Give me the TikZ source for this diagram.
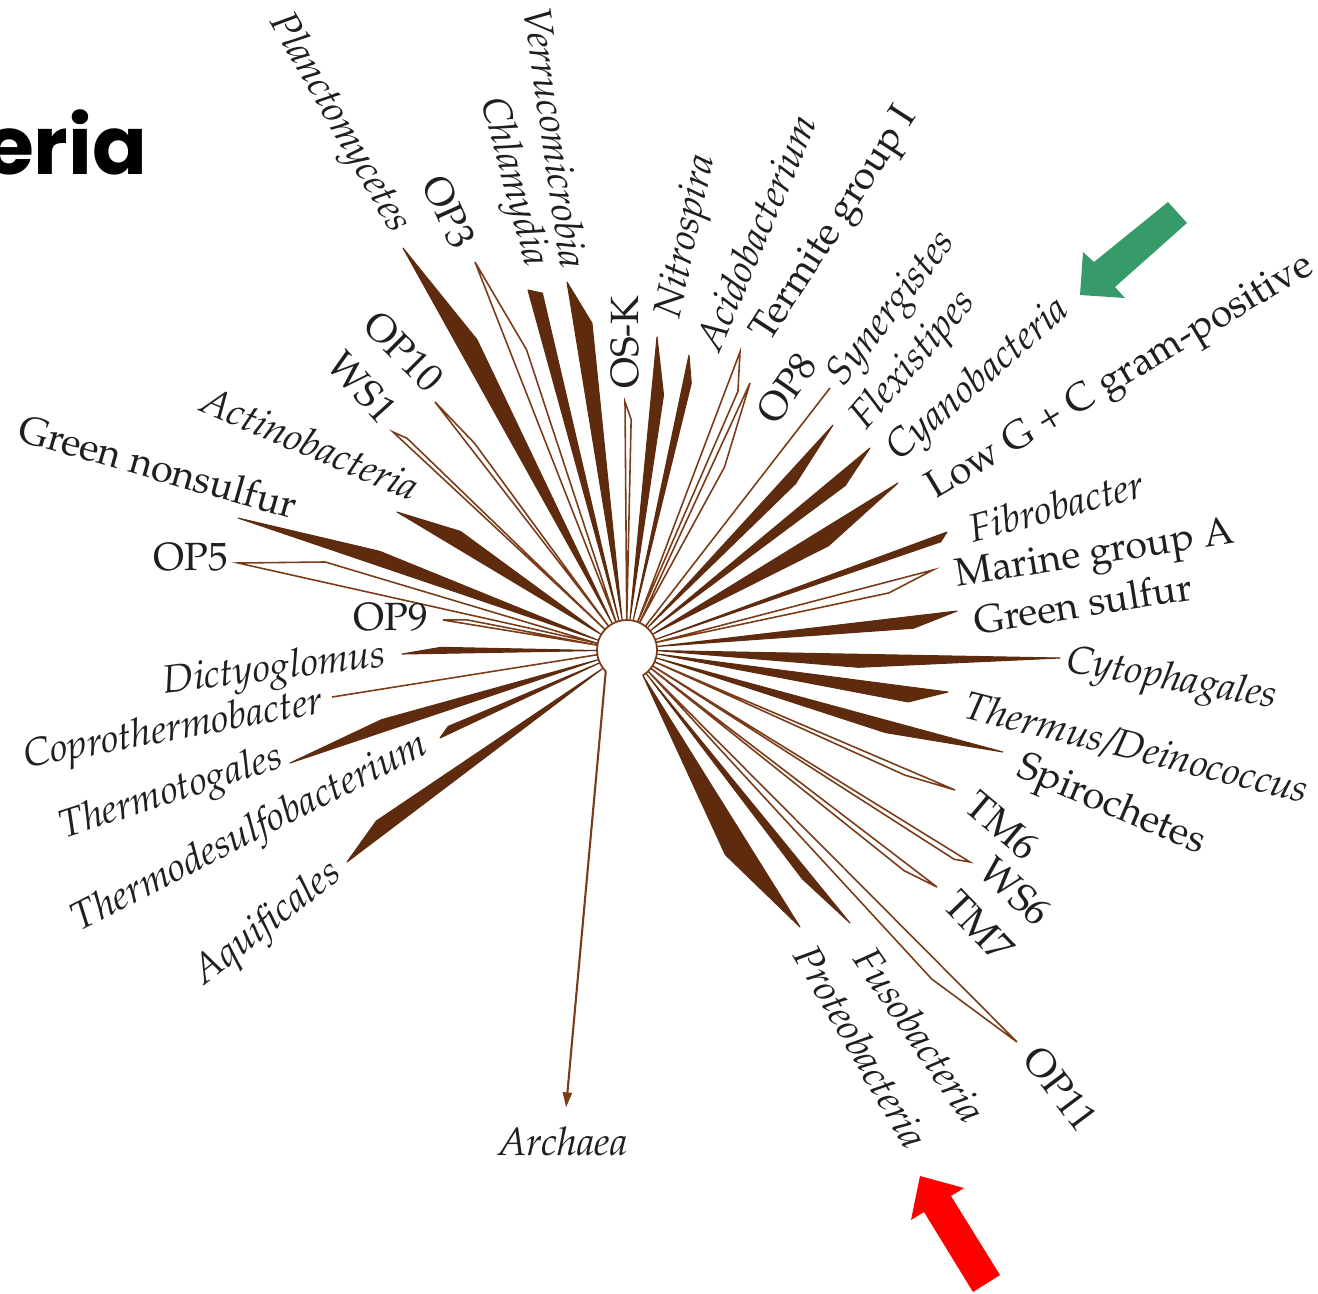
\documentclass[tikz,border=0pt]{standalone}
\usepackage[T1]{fontenc}
\usepackage{fontspec}
\usetikzlibrary{arrows.meta,calc}
\newfontfamily\titlefont{Poppins}
\newcommand{\palfont}{\fontencoding{T1}\fontfamily{ppl}\fontsize{11.2}{13}\selectfont}
\definecolor{brn}{HTML}{5E2B0E}
\definecolor{brnline}{HTML}{7A3C18}
\definecolor{arrgreen}{RGB}{54,155,104}
\definecolor{arrred}{RGB}{255,0,0}

\begin{document}
\begin{tikzpicture}[x=0.01cm, y=-0.01cm,
  full/.style={fill=brn, draw=brn, line width=0.3pt, line join=round},
  open/.style={draw=brnline, line width=0.45pt},
  lab/.style={font=\palfont, text=black!88, inner sep=1pt},
  labit/.style={font=\palfont\itshape, text=black!88, inner sep=1pt},
  arch/.style={draw=brnline, line width=0.6pt, -{Triangle[length=0.15cm,width=0.09cm]}}
]
\useasboundingbox (0,0) rectangle (1318,1293);

% title, cut at the left edge
\node[anchor=base east, inner sep=0, font=\titlefont\bfseries\fontsize{23}{28}\selectfont] (title) at (148,174) {eria};

% root of the tree
\coordinate (dome) at (627,650);

% branches: name/tip x/tip y/shoulder/width/kind
\foreach \nm/\tx/\ty/\tf/\bw/\kind in {
  aquif/347/862/0.85/-15/full, thdes/440/738/0.93/-7/full,
  thtog/290/763/0.69/-12/full, copro/332/697/0.5/0/open,
  dicty/402/654/0.8/-6/full, op9/443/620/0.85/-4/open,
  op5/238/563/0.77/-20/open, gnons/238/518/0.62/-14/full,
  actino/397/512/0.73/-16/full, ws1/393/432/0.95/-5/open,
  op10/435/402/0.8/-6/open, planc/403/248/0.73/-20/full,
  op3/475/262/0.74/-16/open, chlam/528/290/0.98/-13/full,
  verru/567/282/0.87/-18/full, osk/625/402/0.92/-6/open,
  nitro/657/337/0.8/-12/full, acido/689/355/0.9/-8/full,
  termi/740/352/0.87/-12/open, op8/750/383/0.67/-12/open,
  syner/830/388/0.5/0/open, flexi/833/425/0.75/-12/full,
  cyano/870/448/0.85/-13/full, lowgc/898/483/0.68/-17/full,
  fibro/947/532/0.97/-7/full, marin/933/570/0.83/-11/open,
  gsulf/957/611/0.85/-12/full, cytop/1060/658/0.5/-13/full,
  therm/948/692/0.87/-15/full, spiro/1003/752/0.67/-12/full,
  tm6/955/790/0.84/-6/open, ws6/970/862/0.96/-6/open,
  tm7/937/887/0.9/-7/open, op11/1017/1042/0.8/-16/open,
  fuso/850/923/0.8/-9/full, proteo/800/927/0.66/-25/full}{
  \coordinate (\nm) at (\tx,\ty);
  \coordinate (b\nm) at ($(dome)!0.3cm!(\nm)$);
  \coordinate (m\nm) at ($(b\nm)!\tf!(\nm)$);
  \pgfmathsetmacro{\bwpt}{\bw*0.28453}
  \coordinate (s\nm) at ($(m\nm)!\bwpt pt!90:(\nm)$);
  \path[\kind] (b\nm) -- (s\nm) -- (\nm) -- cycle;
}

% the arch under the branches and the outgroup
\coordinate (arch0) at ($(dome)+(225:0.3cm)$);
\draw[brnline, line width=0.5pt] (arch0) arc[start angle=225, end angle=-58, radius=0.3cm];
\node[labit] (archaea) at (563,1141) {Archaea};
\draw[arch, shorten >=0.15cm] (arch0) -- (archaea);

% labels: name/text/x/y/angle/anchor/style
\foreach \nm/\txt/\lx/\ly/\rot/\anc/\sty in {
  aquif/Aquificales/341/868/38/east/labit,
  thdes/Thermodesulfobacterium/430/743/27/east/labit,
  thtog/Thermotogales/286/757/18/east/labit,
  copro/Coprothermobacter/327/703/10.5/east/labit,
  dicty/Dictyoglomus/390/657/7/east/labit,
  op9/OP9/432/617/0/east/lab,
  op5/OP5/232/557/0/east/lab,
  gnons/Green nonsulfur/300/507/-16/east/lab,
  actino/Actinobacteria/421/490/-23/east/labit,
  ws1/WS1/392/420/-48/east/lab,
  op10/OP10/440/388/-45/east/lab,
  planc/Planctomycetes/402/234/-60/east/labit,
  op3/OP3/466/250/-66/east/lab,
  chlam/Chlamydia/536/270/-75/east/labit,
  verru/Verrucomicrobia/575/272/-82/east/labit,
  osk/OS-K/625/393/90/west/lab,
  nitro/Nitrospira/670/322/78/west/labit,
  acido/Acidobacterium/705/352/67/west/labit,
  termi/Termite group I/760/343/57/west/lab,
  op8/OP8/763/422/55/west/lab,
  syner/Synergistes/834/385/52/west/labit,
  flexi/Flexistipes/857/428/49/west/labit,
  cyano/Cyanobacteria/891/458/41/west/labit,
  lowgc/Low G + C gram-positive/928/495/31/west/lab,
  fibro/Fibrobacter/966/530/15/west/labit,
  marin/Marine group A/952/579/9/west/lab,
  gsulf/Green sulfur/970/621/9/west/lab,
  cytop/Cytophagales/1063/662/-10/west/labit,
  therm/{Thermus/Deinococcus}/961/705/-14/west/labit,
  spiro/Spirochetes/1015/766/-23/west/lab,
  tm6/TM6/968/797/-40/west/lab,
  ws6/WS6/983/862/-42/west/lab,
  tm7/TM7/948/894/-46/west/lab,
  op11/OP11/1030/1048/-53/west/lab,
  fuso/Fusobacteria/862/948/-56/west/labit,
  proteo/Proteobacteria/803/945/-60/west/labit}{
  \node[\sty, rotate=\rot, anchor=\anc] (l\nm) at (\lx,\ly) {\txt};
}

% pointers
\fill[arrgreen] (1080,295) -- (1083,252) -- (1094,262) -- (1168,202) -- (1187,223) -- (1115,287) -- (1125,298) -- cycle;
\fill[arrred] (920,1176) -- (964,1188) -- (951,1196) -- (1000,1275) -- (973,1292) -- (924,1212) -- (911,1220) -- cycle;
\end{tikzpicture}
\end{document}
